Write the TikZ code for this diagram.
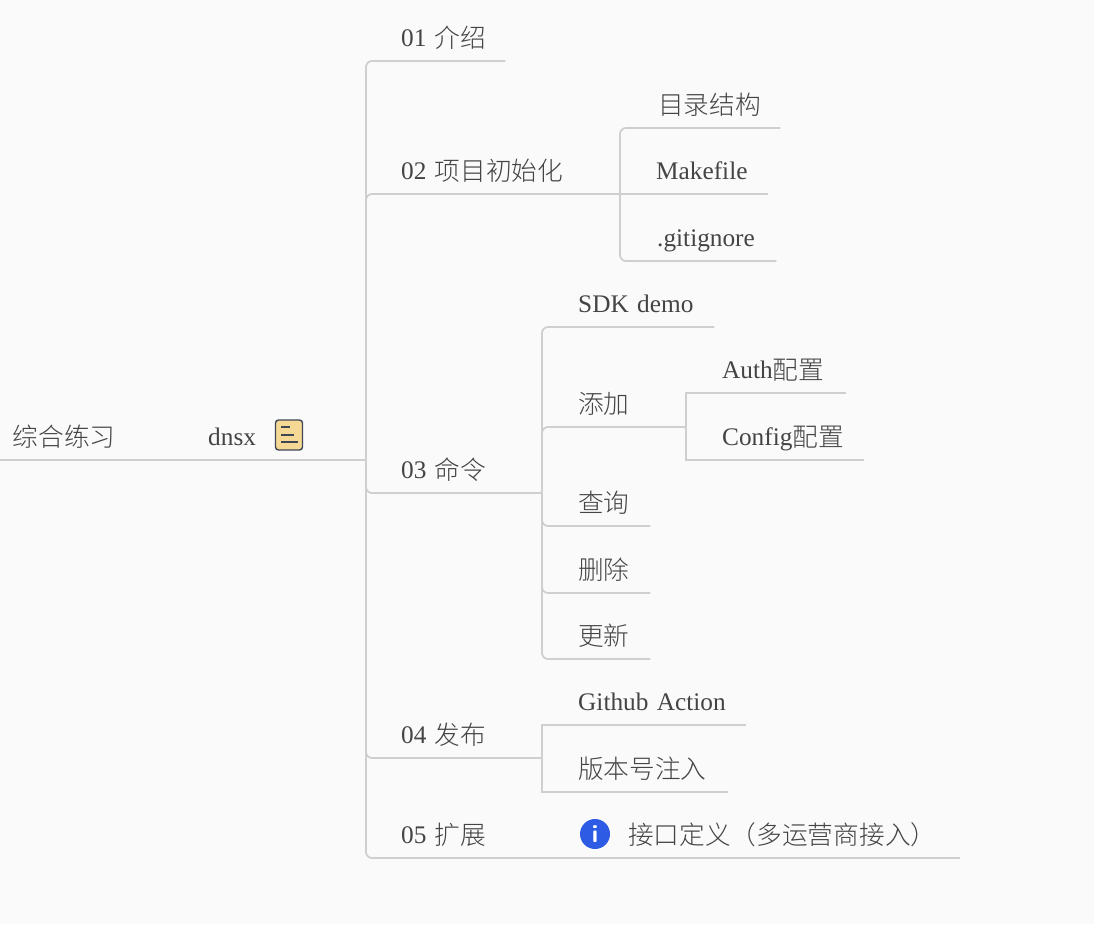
\documentclass[tikz,border=0pt]{standalone}
\usepackage{fontspec}
\setmainfont{Liberation Serif}
\newfontfamily\cjk[UprightFont={* Light}, Scale=1.015, Kerning=Off]{Noto Sans CJK SC}
\newcommand{\zh}[1]{\raisebox{-1pt}{\cjk #1}}
\definecolor{linegray}{HTML}{CFCFCF}
\definecolor{textgray}{HTML}{444444}
\definecolor{pagegray}{HTML}{FAFAFA}
\definecolor{notefill}{HTML}{F5D894}
\definecolor{noteedge}{HTML}{3F4757}
\definecolor{infoblue}{HTML}{2D5BE3}
\tikzset{
  topic/.style={anchor=south west, inner xsep=0pt, inner ysep=0pt, text height=18pt, text depth=14.3pt,
    text width=#1, align=left, text=textgray, font=\fontsize{25.3}{25.3}\selectfont},
  link/.style={draw=linegray, line width=1.8pt, rounded corners=6pt},
  square/.style={draw=linegray, line width=1.8pt},
}
\begin{document}
\begin{tikzpicture}[x=1pt,y=-1pt]
\useasboundingbox[fill=pagegray] (0,0) rectangle (1094,924);
\node[topic=159.5pt] (tid0) at (12.5,460){\zh{综合练习}};
\node[topic=120pt] (tid1) at (208,460){dnsx};
\node[rectangle, rounded corners=3pt, draw=noteedge, fill=notefill, line width=1.4pt, minimum width=27pt, minimum height=30pt, inner sep=0pt] (tid2) at (289,435){};
\draw[noteedge, line width=1.5pt] ([xshift=-8pt,yshift=8pt]tid2.center) -- ++(9,0);
\draw[noteedge, line width=1.5pt] ([xshift=-8pt]tid2.center) -- ++(13,0);
\draw[noteedge, line width=1.5pt] ([xshift=-8pt,yshift=-7pt]tid2.center) -- ++(17,0);
\draw[square](0,460) -- (tid0.south east);
\draw[square](tid0.south east) -- (tid1.south east);
\coordinate (tid3) at (366,460);
\draw[square](tid1.south east) -- (tid3);
% first level
\node[topic=104pt] (tid4) at (401,61){01 \zh{介绍}};
\node[topic=182pt] (tid5) at (401,194){02 \zh{项目初始化}};
\node[topic=141pt] (tid6) at (401,493){03 \zh{命令}};
\node[topic=104pt] (tid7) at (401,758){04 \zh{发布}};
\node[topic=182pt] (tid8) at (401,858){05 \zh{扩展}};
\draw[link](tid3) |- (tid4.south east);
\draw[link](tid3) |- (tid5.south east);
\draw[link](tid3) |- (tid6.south east);
\draw[link](tid3) |- (tid7.south east);
\draw[link](tid3) |- (tid8.south east);
% 02
\coordinate (tid9) at (620,194);
\node[topic=122pt] (tid10) at (658,128){\zh{目录结构}};
\node[topic=112pt] (tid11) at (656,194){Makefile};
\node[topic=119pt] (tid12) at (657,261){.gitignore};
\draw[square](tid5.south east) -- (tid9);
\draw[link](tid9) |- (tid10.south east);
\draw[square](tid9) -- (tid11.south east);
\draw[link](tid9) |- (tid12.south east);
% 03
\coordinate (tid13) at (542,493);
\node[topic=136pt] (tid14) at (578,327){SDK demo};
\node[topic=72pt] (tid15) at (578,427){\zh{添加}};
\node[topic=72pt] (tid16) at (578,526){\zh{查询}};
\node[topic=72pt] (tid17) at (578,593){\zh{删除}};
\node[topic=72pt] (tid18) at (578,659){\zh{更新}};
\draw[link](tid13) |- (tid14.south east);
\draw[link](tid13) |- (tid15.south east);
\draw[link](tid13) |- (tid16.south east);
\draw[link](tid13) |- (tid17.south east);
\draw[link](tid13) |- (tid18.south east);
% 添加
\coordinate (tid19) at (686,427);
\node[topic=124pt] (tid20) at (722,393){Auth\zh{配置}};
\node[topic=142pt] (tid21) at (722,460){Config\zh{配置}};
\draw[square](tid15.south east) -- (tid19);
\draw[square](tid19) |- (tid20.south east);
\draw[square](tid19) |- (tid21.south east);
% 04
\coordinate (tid22) at (542,758);
\node[topic=168pt] (tid23) at (578,725){Github Action};
\node[topic=150pt] (tid24) at (578,792){\zh{版本号注入}};
\draw[square](tid7.south east) -- (tid22);
\draw[square](tid22) |- (tid23.south east);
\draw[square](tid22) |- (tid24.south east);
% 05
\node[topic=332pt] (tid25) at (628,858){\zh{接口定义（多运营商接入）}};
\node[circle, fill=infoblue, minimum size=30pt, inner sep=0pt, text=white, font=\sffamily\bfseries\fontsize{25}{25}\selectfont] (tid26) at (595,834){i};
\draw[square](tid8.south east) -- (tid25.south east);
\end{tikzpicture}
\end{document}
